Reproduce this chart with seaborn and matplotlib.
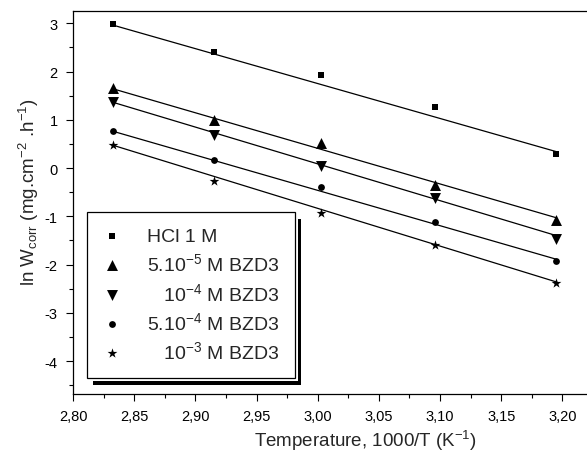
import numpy as np
import matplotlib
matplotlib.use("Agg")
import matplotlib.pyplot as plt
import seaborn as sns
from matplotlib.patches import Rectangle
from matplotlib.transforms import IdentityTransform

# 1000/T values (T = 353, 343, 333, 323, 313 K)
inv_temp = [2.833, 2.915, 3.003, 3.096, 3.195]

# ln W_corr
hcl = [2.99, 2.40, 1.93, 1.27, 0.29]
bzd_5e5 = [1.66, 1.00, 0.51, -0.36, -1.08]
bzd_1e4 = [1.36, 0.69, 0.05, -0.62, -1.47]
bzd_5e4 = [0.76, 0.17, -0.40, -1.11, -1.93]
bzd_1e3 = [0.47, -0.26, -0.93, -1.60, -2.38]

# fitted straight lines, value at the first and at the last 1000/T
fit_start = [2.96, 1.64, 1.36, 0.76, 0.47]
fit_end = [0.34, -1.03, -1.40, -1.89, -2.36]

labels = ["HCl 1 M",
          "5.10$^{-5}$ M BZD3",
          "   10$^{-4}$ M BZD3",
          "5.10$^{-4}$ M BZD3",
          "   10$^{-3}$ M BZD3"]

x_ticks = [2.80, 2.85, 2.90, 2.95, 3.00, 3.05, 3.10, 3.15, 3.20]
x_tick_labels = ["2,80", "2,85", "2,90", "2,95", "3,00", "3,05", "3,10", "3,15", "3,20"]
y_ticks = [3, 2, 1, 0, -1, -2, -3, -4]
y_tick_labels = ["3", "2", "1", "0", "-1", "-2", "-3", "-4"]

sns.set_style("ticks")
plt.rcParams['font.family'] = ['Liberation Sans', 'DejaVu Sans']
plt.rcParams['mathtext.fontset'] = 'custom'
plt.rcParams['mathtext.rm'] = 'Liberation Sans'
plt.rcParams['mathtext.it'] = 'Liberation Sans:italic'
plt.rcParams['mathtext.bf'] = 'Liberation Sans:bold'
plt.rcParams['mathtext.default'] = 'regular'
plt.rcParams['axes.unicode_minus'] = False

fig = plt.figure(figsize=(5.87, 4.52), dpi=100)
W, H = 587, 452
ax = fig.add_axes([73 / W, 1 - 395 / H, 520 / W, 383 / H])

series = [hcl, bzd_5e5, bzd_1e4, bzd_5e4, bzd_1e3]
markers = ['s', '^', 'v', 'o', '*']
sizes = [18, 62, 62, 24, 55]

for vals, m, s, lab, y0, y1 in zip(series, markers, sizes, labels, fit_start, fit_end):
    sns.lineplot(x=[inv_temp[0], inv_temp[-1]], y=[y0, y1], ax=ax, color='black',
                 lw=0.9, legend=False)
    sns.scatterplot(x=inv_temp, y=vals, ax=ax, marker=m, s=s, color='black',
                    linewidth=0, label=lab, zorder=3)

ax.set_xlim(2.80, 3.2245)
ax.set_ylim(-4.683, 3.255)
ax.set_xticks(x_ticks)
ax.set_xticklabels(x_tick_labels)
ax.set_yticks(y_ticks)
ax.set_yticklabels(y_tick_labels)
ax.set_xticks(np.arange(2.825, 3.23, 0.05), minor=True)
ax.set_yticks(np.arange(-4.5, 3.2, 1.0), minor=True)
ax.tick_params(which='major', direction='out', length=5, width=0.8,
               labelsize=10.5, color='black', labelcolor='black')
ax.tick_params(axis='x', which='major', pad=6)
ax.tick_params(axis='y', which='major', pad=6)
ax.tick_params(which='minor', direction='out', length=2.8, width=0.8, color='black')

for sp in ['left', 'bottom', 'top']:
    ax.spines[sp].set_color('black')
    ax.spines[sp].set_linewidth(0.9)
ax.spines['right'].set_visible(False)

ax.set_xlabel("Temperature, 1000/T (K$^{-1}$)", fontsize=13.5)
ax.set_ylabel("ln W$_{\\mathrm{corr}}$ (mg.cm$^{-2}$ .h$^{-1}$)", fontsize=13.5)
ax.xaxis.set_label_coords(0.563, -0.088)
ax.yaxis.set_label_coords(-0.062, 0.53)

leg = ax.legend(loc='upper left', bbox_to_anchor=((87 - 73) / 520, (395 - 213) / 383),
                borderaxespad=0, fontsize=14, frameon=True, fancybox=False,
                scatterpoints=1, handlelength=1.0, handletextpad=1.3,
                borderpad=0.8, labelspacing=0.38)
leg.get_frame().set_edgecolor('black')
leg.get_frame().set_linewidth(0.9)
leg.get_frame().set_facecolor('white')
leg.get_frame().set_alpha(1)

# Origin-style thick shadow behind the legend box
fig.canvas.draw()
bb = leg.get_frame().get_window_extent()
ax.add_patch(Rectangle((bb.x0 + 6, bb.y0 - 7), bb.width, bb.height, facecolor='black',
                       edgecolor='none', transform=IdentityTransform(),
                       clip_on=False, zorder=4.8))
ax.add_patch(Rectangle((bb.x0, bb.y0 - 3), bb.width + 3, bb.height + 3, facecolor='white',
                       edgecolor='none', transform=IdentityTransform(),
                       clip_on=False, zorder=4.9))

fig.savefig("out.png", dpi=100)
